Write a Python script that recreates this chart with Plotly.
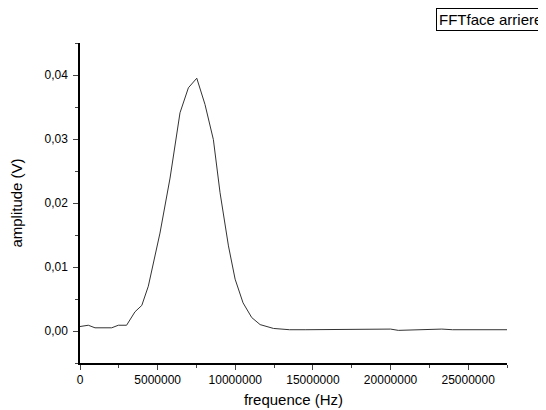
import plotly.graph_objects as go

freq_hz = [0, 535000, 966000, 1500000, 2040000, 2470000, 3000000, 3540000, 3980000,
           4400000, 5150000, 5800000, 6440000, 6980000, 7520000, 8050000, 8590000,
           9020000, 9560000, 9990000, 10500000, 11060000, 11600000, 12460000,
           13500000, 14500000, 15500000, 16500000, 17500000, 18500000, 19500000,
           20000000, 20500000, 21500000, 22500000, 23300000, 24000000, 25000000,
           26000000, 27000000, 27500000]
amplitude_v = [0.0007, 0.0009, 0.0005, 0.0005, 0.0005, 0.0009, 0.0009, 0.0030, 0.0040,
               0.0070, 0.0153, 0.0239, 0.0341, 0.0380, 0.0395, 0.0354, 0.0299,
               0.0216, 0.0133, 0.0081, 0.0044, 0.0021, 0.0010, 0.0004,
               0.0002, 0.0002, 0.0002, 0.0002, 0.0002, 0.0002, 0.0002,
               0.0003, 0.0001, 0.0002, 0.0002, 0.0003, 0.0002, 0.0002,
               0.0002, 0.0002, 0.0002]

series_name = "FFTface arriere"
x_title = "frequence (Hz)"
y_title = "amplitude (V)"

fig = go.Figure()
fig.add_trace(go.Scatter(x=freq_hz, y=amplitude_v, mode="lines",
                         line=dict(color="#333333", width=1), name=series_name,
                         showlegend=False))

font_family = "Arial, Liberation Sans, sans-serif"
# page body has an 8px margin, so the figure is 8px smaller and margins are shifted
fig.update_layout(
    width=538, height=402,
    margin=dict(l=72, r=39, t=35, b=47),
    paper_bgcolor="white", plot_bgcolor="white",
    separators=", ",
    font=dict(family=font_family, color="black", size=12),
    xaxis=dict(range=[0, 27500000], tickformat="d", dtick=5000000, tick0=0,
               showgrid=False, zeroline=False, showline=True, linecolor="black",
               linewidth=1.5, ticks="outside", ticklen=5, tickwidth=1, automargin=False,
               minor=dict(ticks="outside", ticklen=3, dtick=2500000, tick0=0, showgrid=False),
               title=dict(text=x_title, font=dict(size=15), standoff=8),
               tickfont=dict(size=12)),
    yaxis=dict(range=[-0.005, 0.045], tickformat=".2f", dtick=0.01, tick0=0,
               showgrid=False, zeroline=False, showline=True, linecolor="black",
               linewidth=1.5, ticks="outside", ticklen=5, tickwidth=1, automargin=False,
               ticklabelstandoff=3,
               minor=dict(ticks="outside", ticklen=3, dtick=0.005, tick0=0, showgrid=False),
               title=dict(text=y_title, font=dict(size=15), standoff=18),
               tickfont=dict(size=12)),
)
fig.add_annotation(text=series_name, xref="paper", yref="paper",
                   x=(537 - 72) / 427, y=(355 - 0) / 320, xanchor="right", yanchor="top",
                   showarrow=False, bordercolor="black", borderwidth=1, borderpad=2,
                   bgcolor="white", font=dict(size=15, family=font_family))
fig.write_html("out.html")
